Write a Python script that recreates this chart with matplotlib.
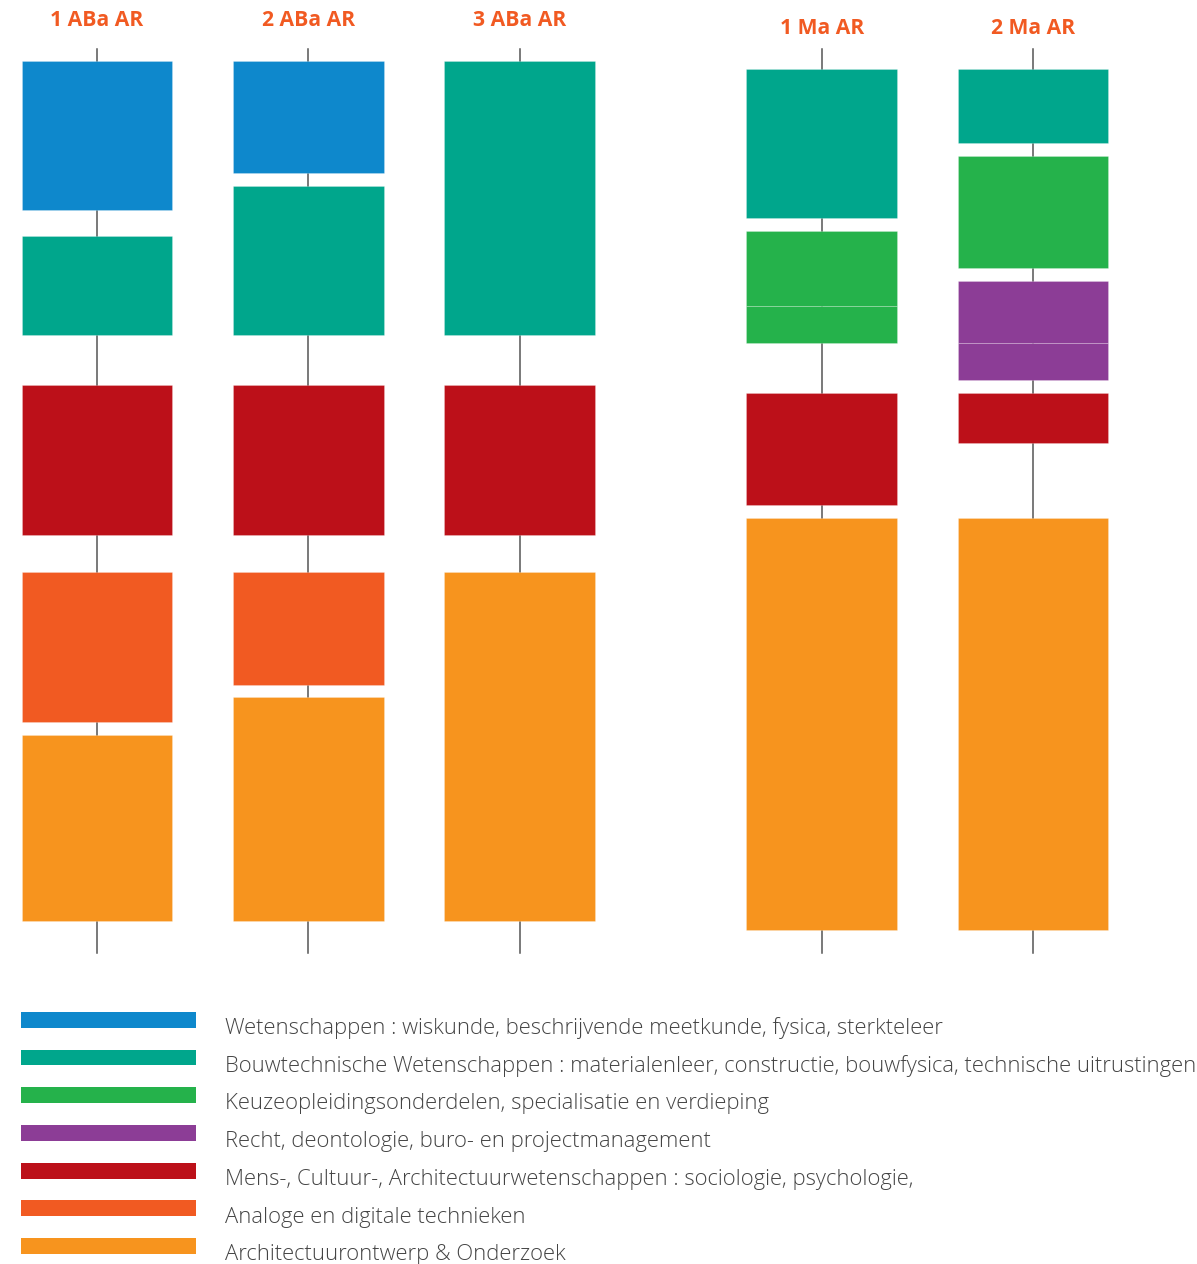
"""Study programme blocks per year (ABa / Ma AR)."""
import matplotlib.pyplot as plt
from matplotlib.patches import Rectangle

plt.rcParams["font.family"] = ["Open Sans", "DejaVu Sans"]

# columns (years) and their position on the x scale
years = ["1 ABa AR", "2 ABa AR", "3 ABa AR", "1 Ma AR", "2 Ma AR"]
year_x = [0, 1, 2, 3.43, 4.43]

# categories
cat_labels = [
    "Wetenschappen : wiskunde, beschrijvende meetkunde, fysica, sterkteleer",
    "Bouwtechnische Wetenschappen : materialenleer, constructie, bouwfysica, technische uitrustingen",
    "Keuzeopleidingsonderdelen, specialisatie en verdieping",
    "Recht, deontologie, buro- en projectmanagement",
    "Mens-, Cultuur-, Architectuurwetenschappen : sociologie, psychologie,",
    "Analoge en digitale technieken",
    "Architectuurontwerp & Onderzoek",
]
cat_colors = ["#0E88CC", "#00A68C", "#25B24B", "#8C3D96", "#BC1019", "#F15A22", "#F7941E"]

# blocks per year: (category index, start, end) along the track (0 = top)
blocks_1aba = [(0, 0, 149), (1, 175, 274), (4, 324, 474), (5, 511, 661), (6, 674, 860)]
blocks_2aba = [(0, 0, 112), (1, 125, 274), (4, 324, 474), (5, 511, 624), (6, 636, 860)]
blocks_3aba = [(1, 0, 274), (4, 324, 474), (6, 511, 860)]
blocks_1ma = [(1, 8, 157), (2, 170, 245), (2, 245, 282), (4, 332, 444), (6, 457, 869)]
blocks_2ma = [(1, 8, 82), (2, 95, 207), (3, 220, 282), (3, 282, 319), (4, 332, 382), (6, 457, 869)]
all_blocks = [blocks_1aba, blocks_2aba, blocks_3aba, blocks_1ma, blocks_2ma]

track_start = -12
track_end = 892

fig = plt.figure(figsize=(11.97, 12.64), dpi=100)
ax = fig.add_axes([0, 0, 1, 1])
ax.set_xlim(-0.459, 5.206)
ax.set_ylim(1203, -61)
ax.axis("off")

bar_w = 0.713

for xc, name, blocks in zip(year_x, years, all_blocks):
    ax.plot([xc, xc], [track_start, track_end], color="#555555", lw=1.1, zorder=1)
    for cat, y0, y1 in blocks:
        ax.add_patch(Rectangle((xc - bar_w / 2, y0), bar_w, y1 - y0,
                               facecolor=cat_colors[cat], edgecolor=(1, 1, 1, 0.25),
                               linewidth=0.6, zorder=2))
    ty = -41 if "ABa" in name else -32
    ax.text(xc, ty, name, ha="center", va="center", fontsize=15.2,
            fontweight="bold", color="#F15A22")

# legend
for i, (lab, col) in enumerate(zip(cat_labels, cat_colors)):
    yc = 0.1932 - i * 0.02985
    fig.patches.append(Rectangle((0.0175, yc - 0.0063), 0.1462, 0.0126,
                                 facecolor=col, edgecolor="none",
                                 transform=fig.transFigure, figure=fig))
    fig.text(0.188, yc - 0.0068, lab, ha="left", va="center", fontsize=15.8,
             fontweight="light", color="#444444")

plt.savefig("out.png", dpi=100)
plt.close()
